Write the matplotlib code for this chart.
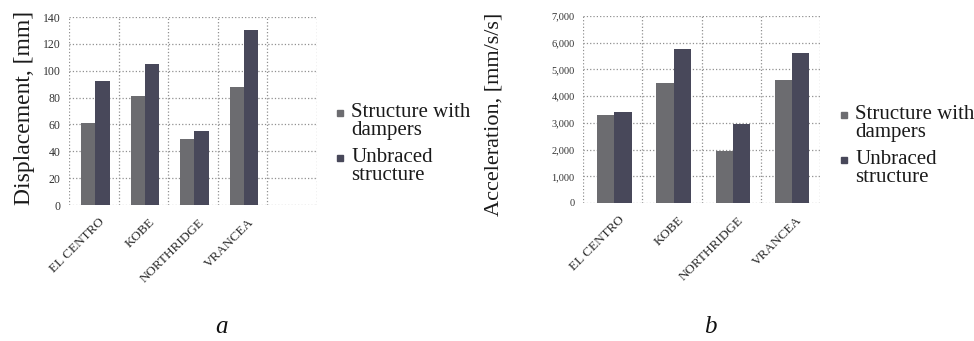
import matplotlib
matplotlib.use("Agg")
import matplotlib.pyplot as plt
from matplotlib.patches import Rectangle
import numpy as np

quakes = ["EL CENTRO", "KOBE", "NORTHRIDGE", "VRANCEA"]
series = ["Structure with\ndampers", "Unbraced\nstructure"]

disp_dampers = [61, 81, 49, 88]
disp_unbraced = [92, 105, 55, 130]

acc_dampers = [3300, 4480, 1930, 4600]
acc_unbraced = [3400, 5750, 2970, 5610]

disp_ticks = [0, 20, 40, 60, 80, 100, 120, 140]
acc_ticks = [0, 1000, 2000, 3000, 4000, 5000, 6000, 7000]
acc_ticklabels = ["0", "1,000", "2,000", "3,000", "4,000", "5,000", "6,000", "7,000"]

serif = ["Liberation Serif", "DejaVu Serif"]
plt.rcParams['font.family'] = serif

W, H = 974, 341
fig = plt.figure(figsize=(W / 100, H / 100), dpi=100)

c1 = "#6c6c70"
c2 = "#48485a"


def px(x, y):
	# pixel coords (top-left origin) to figure fraction
	return x / W, 1 - y / H


def chart(box, v1, v2, nslots, ticks, ticklabels, tsize, ylabel, ysize, ylab_xy, leg_x, leg_y, sub, sub_xy):
	l, t, r, b = box
	ax = fig.add_axes([l / W, 1 - b / H, (r - l) / W, (b - t) / H])
	x = np.arange(len(quakes))
	w = 0.29
	ax.bar(x - w / 2 + 0.03, v1, w, color=c1, zorder=3)
	ax.bar(x + w / 2 + 0.03, v2, w, color=c2, zorder=3)
	ax.set_xlim(-0.5, nslots - 0.5)
	ax.set_ylim(ticks[0], ticks[-1])
	ax.set_yticks(ticks)
	ax.set_yticklabels(ticklabels, fontsize=tsize, color="#333333")
	ax.set_xticks(x + 0.1)
	ax.set_xticklabels(quakes, rotation=45, ha="right", rotation_mode="anchor",
		fontsize=9.5, color="#2a2a2a")
	ax.set_xticks(np.arange(nslots + 1) - 0.5, minor=True)
	ax.tick_params(axis="both", which="both", length=0)
	ax.tick_params(axis="y", pad=6)
	ax.tick_params(axis="x", pad=8)
	ax.grid(True, axis="y", which="major", linestyle=":", color="#909090", linewidth=0.9, zorder=0)
	ax.grid(True, axis="x", which="minor", linestyle=":", color="#909090", linewidth=0.9, zorder=0)
	for s in ax.spines.values():
		s.set_visible(False)
	fx, fy = px(*ylab_xy)
	fig.text(fx, fy, ylabel, rotation=90, ha="center", va="center", fontsize=ysize, color="#1a1a1a")
	for i, (lab, col) in enumerate(zip(series, [c1, c2])):
		yy = leg_y + i * 45
		mx, my = px(leg_x - 14, yy + 3)
		fig.patches.append(Rectangle((mx, my), 6 / W, 6 / H, transform=fig.transFigure,
			color=col, figure=fig))
		tx, ty = px(leg_x, yy - 10)
		fig.text(tx, ty, lab, ha="left", va="top", fontsize=15, linespacing=0.92, color="#1a1a1a")
	sx, sy = px(*sub_xy)
	fig.text(sx, sy, sub, ha="center", va="center", fontsize=18, style="italic", color="#111111")
	return ax


chart((69, 17, 317, 205), disp_dampers, disp_unbraced, 5, disp_ticks,
	[str(v) for v in disp_ticks], 8.5, "Displacement, [mm]", 17, (25, 108), 351, 113, "a", (222, 327))
chart((583, 16, 820, 203), acc_dampers, acc_unbraced, 4, acc_ticks,
	acc_ticklabels, 7.5, "Acceleration, [mm/s/s]", 16, (494, 114), 855, 115, "b", (710, 327))

fig.savefig("out.png", dpi=100)
